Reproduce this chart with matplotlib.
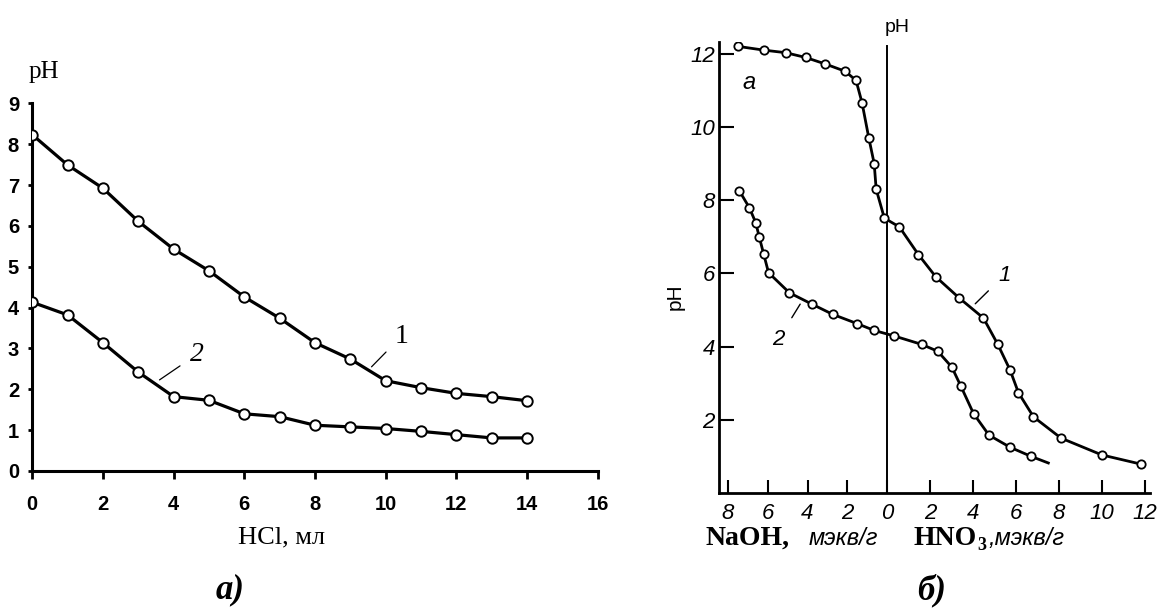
import numpy as np
import matplotlib
matplotlib.use("Agg")
import matplotlib.pyplot as plt

# ---------------- data ----------------
# panel a)
hcl_ml = [0, 1, 2, 3, 4, 5, 6, 7, 8, 9, 10, 11, 12, 13, 14]
ph_curve1 = [8.23, 7.49, 6.92, 6.11, 5.43, 4.90, 4.26, 3.74, 3.14, 2.74, 2.21, 2.04, 1.90, 1.82, 1.72]
ph_curve2 = [4.13, 3.82, 3.14, 2.42, 1.82, 1.73, 1.40, 1.33, 1.12, 1.08, 1.04, 0.97, 0.89, 0.81, 0.81]
a_xticks = [0, 2, 4, 6, 8, 10, 12, 14, 16]
a_yticks = [0, 1, 2, 3, 4, 5, 6, 7, 8, 9]

# panel б)  (negative x = NaOH, positive x = HNO3, мэкв/г)
b1_x = [-7.47, -6.2, -5.1, -4.1, -3.1, -2.1, -1.56, -1.26, -0.92, -0.65, -0.55, -0.14,
        0.57, 1.46, 2.26, 3.35, 4.48, 5.15, 5.72, 6.11, 6.81, 8.09, 9.99, 11.8]
b1_y = [12.2, 12.1, 12.03, 11.9, 11.72, 11.52, 11.27, 10.66, 9.70, 9.0, 8.30, 7.51,
        7.27, 6.51, 5.91, 5.33, 4.78, 4.06, 3.36, 2.74, 2.08, 1.50, 1.04, 0.79]
b2_x = [-7.42, -6.92, -6.6, -6.43, -6.2, -5.96, -4.91, -3.78, -2.73, -1.52, -0.64,
        0.33, 1.61, 2.36, 3.01, 3.43, 4.02, 4.74, 5.72, 6.70, 7.5]
b2_y = [8.25, 7.79, 7.38, 7.0, 6.52, 6.02, 5.47, 5.16, 4.88, 4.63, 4.44,
        4.29, 4.06, 3.87, 3.44, 2.92, 2.17, 1.58, 1.25, 1.0, 0.82]
b_xticks = [-8, -6, -4, -2, 0, 2, 4, 6, 8, 10, 12]
b_xticklabels = ["8", "6", "4", "2", "0", "2", "4", "6", "8", "10", "12"]
b_yticks = [2, 4, 6, 8, 10, 12]

# ---------------- figure ----------------
W, H = 1157, 608
fig = plt.figure(figsize=(W / 100, H / 100), dpi=100)
fig.patch.set_facecolor("white")


def fx(x):
    return x / W


def fy(y):
    return 1 - y / H


narrow = ["Liberation Sans Narrow", "Liberation Sans", "DejaVu Sans"]
serif = ["Liberation Serif", "DejaVu Serif"]
sans = ["Liberation Sans", "DejaVu Sans"]

# ---------- panel a ----------
axL = fig.add_axes([fx(32.3), fy(471), fx(597.7 - 32.3), (471 - 103.3) / H])
axL.plot(hcl_ml, ph_curve1, color="black", lw=2.3, marker="o", ms=7.5,
         mfc="white", mec="black", mew=1.4, zorder=3)
axL.plot(hcl_ml, ph_curve2, color="black", lw=2.3, marker="o", ms=7.5,
         mfc="white", mec="black", mew=1.4, zorder=3)
axL.set_xlim(0, 16)
axL.set_ylim(0, 9)
for s in ["top", "right"]:
    axL.spines[s].set_visible(False)
for s in ["left", "bottom"]:
    axL.spines[s].set_linewidth(2.2)
axL.set_xticks(a_xticks)
axL.set_yticks(a_yticks)
axL.tick_params(axis="x", direction="out", length=5.8, width=2.0, pad=11.5)
axL.tick_params(axis="y", direction="out", length=3, width=2.0, pad=6.5)
for lab in axL.get_xticklabels() + axL.get_yticklabels():
    lab.set_fontfamily(narrow)
    lab.set_fontweight("bold")
    lab.set_fontsize(14.5)
axL.patch.set_alpha(0)

axL.annotate("1", xy=(9.6, 2.55), xytext=(10.45, 3.3), fontsize=20,
             family=serif, ha="center", va="center",
             arrowprops=dict(arrowstyle="-", lw=0.9, color="black",
                             shrinkA=6, shrinkB=0))
axL.annotate("2", xy=(3.6, 2.23), xytext=(4.65, 2.85), fontsize=20,
             family=serif, style="italic", ha="center", va="center",
             arrowprops=dict(arrowstyle="-", lw=0.9, color="black",
                             shrinkA=6, shrinkB=0))

fig.text(fx(44), fy(72), "pH", family=serif, fontsize=18, ha="center", va="center")
fig.text(fx(282), fy(537), "HCl, мл", family=serif, fontsize=19, ha="center", va="center")
fig.text(fx(230), fy(590), "а)", family=serif, fontsize=25, fontweight="bold",
         style="italic", ha="center", va="center")

# ---------- panel б ----------
K = 19.9 / 21.5  # left (NaOH) side is drawn slightly more compressed


def fwd(x):
    x = np.asarray(x, dtype=float)
    return np.where(x < 0, x * K, x)


def inv(x):
    x = np.asarray(x, dtype=float)
    return np.where(x < 0, x / K, x)


axR = fig.add_axes([fx(719), fy(493), fx(1150 - 719), (493 - 41.7) / H])
axR.set_xscale("function", functions=(fwd, inv))
axR.set_xlim(-8.45, 12.23)
axR.set_ylim(0, 12.33)
axR.plot(b1_x, b1_y, color="black", lw=2.0, marker="o", ms=6, mfc="white",
         mec="black", mew=1.3, zorder=3)
axR.plot(b2_x, b2_y, color="black", lw=2.0, marker="o", ms=6, mfc="white",
         mec="black", mew=1.3, markevery=slice(0, len(b2_x) - 1), zorder=3)
axR.axvline(0, ymin=0, ymax=12.2 / 12.33, color="black", lw=1.4, zorder=2)
for s in ["top", "right"]:
    axR.spines[s].set_visible(False)
for s in ["left", "bottom"]:
    axR.spines[s].set_linewidth(2.0)
axR.set_xticks(b_xticks)
axR.set_xticklabels(b_xticklabels)
axR.set_yticks(b_yticks)
axR.xaxis.set_minor_locator(matplotlib.ticker.NullLocator())
axR.tick_params(axis="x", direction="in", length=9.5, width=1.5, pad=7)
axR.tick_params(axis="y", direction="in", length=10.8, width=1.5, pad=3)
for lab in axR.get_xticklabels() + axR.get_yticklabels():
    lab.set_fontfamily(sans)
    lab.set_style("italic")
    lab.set_fontsize(16)
axR.patch.set_alpha(0)

axR.annotate("1", xy=(4.1, 5.17), xytext=(5.45, 5.95), fontsize=16,
             family=sans, style="italic", ha="center", va="center",
             arrowprops=dict(arrowstyle="-", lw=1.0, color="black",
                             shrinkA=7, shrinkB=0))
axR.annotate("2", xy=(-4.37, 5.16), xytext=(-5.46, 4.2), fontsize=16,
             family=sans, style="italic", ha="center", va="center",
             arrowprops=dict(arrowstyle="-", lw=1.0, color="black",
                             shrinkA=7, shrinkB=0))
axR.text(0.07, 0.91, "a", transform=axR.transAxes, family=sans, style="italic",
         fontsize=17, ha="center", va="center")

fig.text(fx(897), fy(27), "pH", family=sans, fontsize=14, ha="center", va="center")
fig.text(fx(675), fy(297), "pH", family=sans, fontsize=15, rotation=90,
         ha="center", va="center")

# x-axis label pieces
fig.text(fx(705), fy(545), "NaOH,", family=serif, fontweight="bold", fontsize=20,
         ha="left", va="baseline")
fig.text(fx(809), fy(545), "мэкв/г", family=sans, style="italic", fontsize=17,
         ha="left", va="baseline")
t_hno = fig.text(fx(913), fy(545), "HNO", family=serif, fontweight="bold", fontsize=20,
                 ha="left", va="baseline")
renderer = fig.canvas.get_renderer()
bb = t_hno.get_window_extent(renderer)
x_end = bb.x1 / W
fig.text(x_end + 1 / W, fy(550), "3", family=serif, fontweight="bold", fontsize=13,
         ha="left", va="baseline")
fig.text(x_end + 12 / W, fy(545), ",мэкв/г", family=sans, style="italic", fontsize=17,
         ha="left", va="baseline")
fig.text(fx(932), fy(590), "б)", family=serif, fontsize=25, fontweight="bold",
         style="italic", ha="center", va="center")

fig.savefig("out.png", dpi=100, facecolor="white")
